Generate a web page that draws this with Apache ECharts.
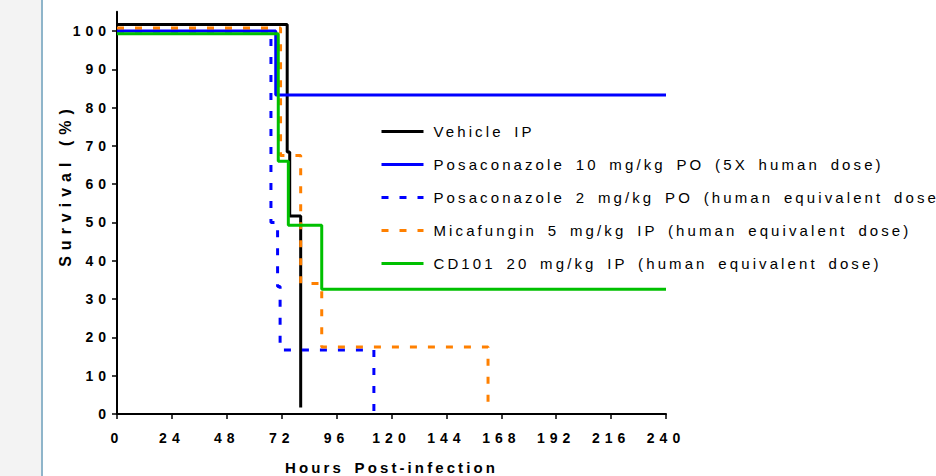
<!DOCTYPE html>
<html>
<head>
<meta charset="utf-8">
<script src="https://cdn.jsdelivr.net/npm/echarts@6/dist/echarts.min.js"></script>
<style>
  html, body { margin: 0; padding: 0; background: #ffffff; }
  #chart { width: 936px; height: 476px; }
  /* PDF-like wide character spacing */
  #chart text[style*="14px"] { letter-spacing: 5px; }
  #chart text[style*="15px"] { letter-spacing: 3.1px; word-spacing: 3.5px; }
  #chart text[style*="16px"] { letter-spacing: 6px; }
</style>
</head>
<body>
<div id="chart"></div>
<script>
// ---- data (hours post-infection, survival %) ----
const seriesNames = [
  'Vehicle IP',
  'Posaconazole 10 mg/kg PO (5X human dose)',
  'Posaconazole 2 mg/kg PO (human equivalent dose)',
  'Micafungin 5 mg/kg IP (human equivalent dose)',
  'CD101 20 mg/kg IP (human equivalent dose)'
];
const vehicleHours = [0, 74.4, 75.5, 80.3];
const vehicleSurvival = [101.7, 68.4, 51.7, 1.7];
const posa10Hours = [0, 69.4, 240];
const posa10Survival = [100, 83.3, 83.3];
const posa2Hours = [0, 67.3, 70.2, 71.3, 112.3];
const posa2Survival = [100, 50, 33.3, 16.7, 0];
const micaHours = [0, 71.5, 80.3, 89.5, 162.2];
const micaSurvival = [100.8, 67.5, 34.1, 17.5, 0.8];
const cd101Hours = [0, 70.5, 74.9, 89.5, 240];
const cd101Survival = [99.3, 66, 49.3, 32.6, 32.6];
const xTicks = [0, 24, 48, 72, 96, 120, 144, 168, 192, 216, 240];
const yTicks = [0, 10, 20, 30, 40, 50, 60, 70, 80, 90, 100];

const zip = (xs, ys) => xs.map((x, i) => [x, ys[i]]);

const chart = echarts.init(document.getElementById('chart'), null, { renderer: 'svg' });

const styles = [
  { color: '#000000', type: 'solid' },
  { color: '#0000ff', type: 'solid' },
  { color: '#0000ff', type: [7, 11] },
  { color: '#ff8000', type: [7, 11] },
  { color: '#00c000', type: 'solid' }
];
const dataSets = [
  zip(vehicleHours, vehicleSurvival),
  zip(posa10Hours, posa10Survival),
  zip(posa2Hours, posa2Survival),
  zip(micaHours, micaSurvival),
  zip(cd101Hours, cd101Survival)
];

const fontFam = '"Liberation Sans", Arial, sans-serif';

chart.setOption({
  animation: false,
  backgroundColor: '#ffffff',
  graphic: [
    { type: 'rect', left: 0, top: 0, shape: { width: 41, height: 476 }, style: { fill: '#f3f3f3' }, silent: true, z: -10 },
    { type: 'rect', left: 41, top: 0, shape: { width: 2, height: 476 }, style: { fill: '#8fb5ca' }, silent: true, z: -10 },
    {
      type: 'text', x: 65, y: 185, rotation: Math.PI / 2,
      style: { text: 'Survival (%)', font: 'bold 16px ' + fontFam, fill: '#000', align: 'center', verticalAlign: 'middle' }
    }
  ],
  grid: { left: 117, right: 270, top: 11.8, bottom: 62, containLabel: false, outerBoundsMode: 'none' },
  legend: {
    show: true,
    orient: 'vertical',
    left: 380,
    top: 124,
    padding: 0,
    itemWidth: 42,
    itemHeight: 14,
    itemGap: 18,
    itemStyle: { opacity: 0 },
    lineStyle: { width: 3 },
    textStyle: { fontFamily: fontFam, fontSize: 15, color: '#000', lineHeight: 14, padding: [0, 0, 0, 5] },
    data: seriesNames
  },
  xAxis: {
    type: 'value',
    min: 0, max: 240, interval: 24,
    name: 'Hours Post-infection',
    nameLocation: 'middle',
    nameGap: 46,
    nameTextStyle: { fontFamily: fontFam, fontSize: 15, fontWeight: 'bold', color: '#000' },
    axisLine: { show: true, onZero: false, lineStyle: { color: '#000', width: 2 } },
    axisTick: { show: true, inside: false, length: 5, lineStyle: { color: '#000', width: 1.5 } },
    axisLabel: { fontFamily: fontFam, fontSize: 14, fontWeight: 'bold', color: '#000', margin: 17, customValues: xTicks },
    splitLine: { show: false }
  },
  yAxis: {
    type: 'value',
    min: 0, max: 105,
    axisLine: { show: true, onZero: false, lineStyle: { color: '#000', width: 2 } },
    axisTick: { show: true, inside: false, length: 5, lineStyle: { color: '#000', width: 1.5 }, customValues: yTicks },
    axisLabel: { fontFamily: fontFam, fontSize: 14, fontWeight: 'bold', color: '#000', margin: 6, customValues: yTicks },
    splitLine: { show: false }
  },
  series: dataSets.map((d, i) => ({
    name: seriesNames[i],
    type: 'line',
    step: 'end',
    data: d,
    showSymbol: false,
    symbol: 'none',
    color: styles[i].color,
    lineStyle: { color: styles[i].color, width: 3, type: styles[i].type },
    z: 2 + i
  }))
});
</script>
</body>
</html>
